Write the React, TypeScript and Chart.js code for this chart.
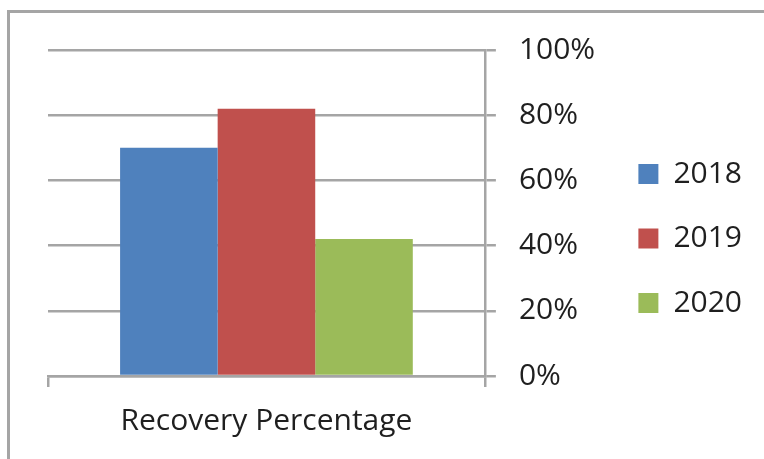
import React, { useEffect, useRef } from "react";
import { Chart, registerables } from "chart.js";

Chart.register(...registerables);

const categories = ["Recovery Percentage"];
const seriesNames = ["2018", "2019", "2020"];
const values2018 = [70];
const values2019 = [82];
const values2020 = [42];
const seriesColors = ["#4F81BD", "#C0504D", "#9BBB59"];
const yMin = 0;
const yMax = 100;
const yStep = 20;

const FONT = "'Open Sans', 'Noto Sans', sans-serif";
const GRID = "#A5A5A5";
const TEXT = "#1f1f1f";

const framePlugin = {
  id: "frame",
  beforeDraw(chart: any) {
    const { ctx, width, height } = chart;
    ctx.save();
    ctx.fillStyle = "#ffffff";
    ctx.fillRect(0, 0, width, height);
    ctx.strokeStyle = GRID;
    ctx.lineWidth = 3;
    ctx.beginPath();
    ctx.moveTo(8.5, height);
    ctx.lineTo(8.5, 11.5);
    ctx.lineTo(width, 11.5);
    ctx.stroke();
    ctx.restore();
  },
};

export default function App() {
  const ref = useRef<HTMLCanvasElement | null>(null);

  useEffect(() => {
    if (!ref.current) return;
    const seriesValues = [values2018, values2019, values2020];
    const chart = new Chart(ref.current, {
      type: "bar",
      data: {
        labels: categories,
        datasets: seriesNames.map((name, i) => ({
          label: name,
          data: seriesValues[i],
          backgroundColor: seriesColors[i],
          borderWidth: 0,
          categoryPercentage: 0.67,
          barPercentage: 1,
        })),
      },
      plugins: [framePlugin],
      options: {
        responsive: false,
        animation: false,
        devicePixelRatio: 1,
        layout: { padding: { top: 50, right: 12, bottom: 13, left: 48 } },
        plugins: {
          tooltip: { enabled: false },
          legend: {
            position: "right",
            align: "start",
            title: {
              display: true,
              text: " ",
              font: { family: FONT, size: 30 },
              padding: { top: 0, bottom: 38.5 },
            },
            labels: {
              boxWidth: 20,
              boxHeight: 20,
              padding: 34.5,
              color: TEXT,
              font: { family: FONT, size: 30 },
            },
          },
        },
        scales: {
          x: {
            offset: true,
            grid: {
              display: true,
              drawOnChartArea: false,
              drawTicks: true,
              tickLength: 11,
              color: GRID,
              lineWidth: 2.5,
              offset: true,
            },
            border: { display: true, color: GRID, width: 2.5 },
            ticks: {
              color: TEXT,
              padding: 16,
              font: { family: FONT, size: 30 },
              maxRotation: 0,
            },
            afterFit: (scale: any) => {
              scale.height = 70;
            },
          },
          y: {
            position: "right",
            min: yMin,
            max: yMax,
            ticks: {
              stepSize: yStep,
              color: TEXT,
              padding: 23,
              font: { family: FONT, size: 30 },
              callback: (v: any) => `${v}%`,
            },
            grid: {
              color: GRID,
              lineWidth: 2.5,
              tickLength: 11,
              drawTicks: true,
            },
            border: { display: true, color: GRID, width: 2.5 },
            afterFit: (scale: any) => {
              scale.width = 119;
            },
          },
        },
      },
    });
    return () => chart.destroy();
  }, []);

  return (
    <div
      style={{
        position: "fixed",
        left: 0,
        top: 0,
        width: 764,
        height: 459,
        overflow: "hidden",
        background: "#fff",
      }}
    >
      <canvas
        ref={ref}
        width={764}
        height={459}
        style={{ position: "absolute", left: 0, top: 0, display: "block" }}
      />
    </div>
  );
}
